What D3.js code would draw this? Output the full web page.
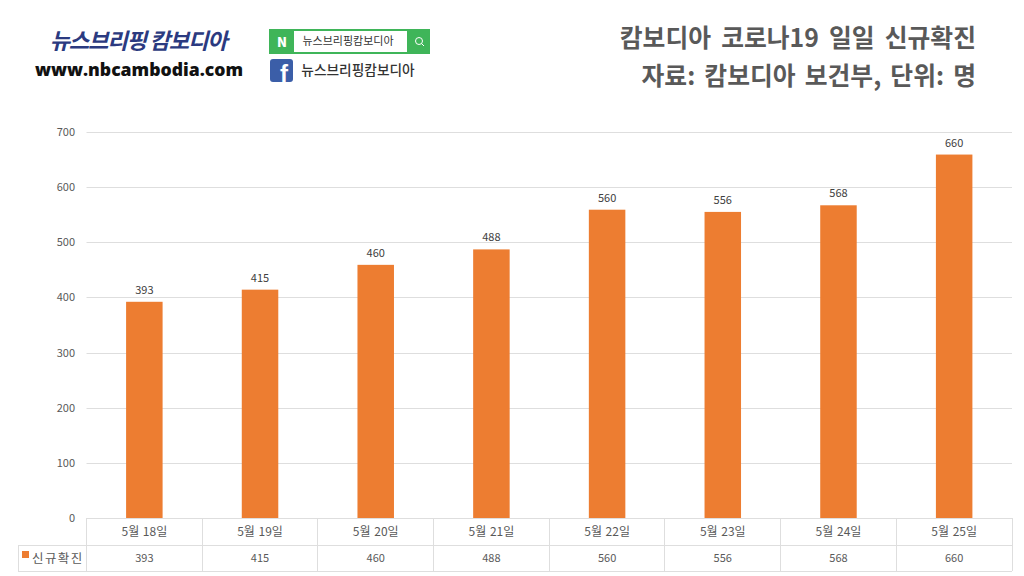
<!DOCTYPE html>
<html>
<head>
<meta charset="utf-8">
<script src="https://cdn.jsdelivr.net/npm/d3@7"></script>
<style>
html,body{margin:0;padding:0;background:#fff;overflow:hidden}
text{font-family:"Noto Sans CJK KR","Noto Sans",sans-serif}
</style>
</head>
<body>
<script>
var categories = ["5월 18일","5월 19일","5월 20일","5월 21일","5월 22일","5월 23일","5월 24일","5월 25일"];
var values = [393,415,460,488,560,556,568,660];
var yTicks = [0,100,200,300,400,500,600,700];
var seriesName = "신규확진";
var titleLines = ["캄보디아 코로나19 일일 신규확진","자료: 캄보디아 보건부, 단위: 명"];

var width = 1024, height = 576;
var left = 86.5, right = 1012, top_ = 132, bottom = 518;
var row1 = 545, row2 = 571, tableLeft = 18;
var orange = "#ed7d31", grid = "#dedede", textCol = "#595959";

var svg = d3.select("body").append("svg")
  .attr("width", width)
  .attr("height", height)
  .style("display","block");

var x = d3.scaleBand().domain(categories).range([left,right]);
var y = d3.scaleLinear().domain([0,700]).range([bottom,top_]);

// gridlines
svg.selectAll("line.grid")
  .data(yTicks)
  .enter()
  .append("line")
  .attr("class","grid")
  .attr("x1",left).attr("x2",right)
  .attr("y1",function(d){return Math.round(y(d))+0.5;})
  .attr("y2",function(d){return Math.round(y(d))+0.5;})
  .attr("stroke",grid);

// y axis
var yAxis = d3.axisLeft(y).tickValues(yTicks).tickSize(0).tickPadding(11.5);
var yg = svg.append("g").attr("transform","translate("+left+",0)").call(yAxis);
yg.select(".domain").remove();
yg.selectAll("text").attr("font-size",11).attr("fill",textCol)
  .style("font-family",'"Noto Sans CJK KR",sans-serif');

// bars
var barW = 36.5;
svg.selectAll("rect.bar")
  .data(values)
  .enter()
  .append("rect")
  .attr("class","bar")
  .attr("x",function(d,i){return x(categories[i])+x.bandwidth()/2-barW/2;})
  .attr("y",function(d){return y(d)+0.5;})
  .attr("width",barW)
  .attr("height",function(d){return y(0)-y(d)-0.5;})
  .attr("fill",orange);

svg.selectAll("text.val")
  .data(values)
  .enter()
  .append("text")
  .attr("class","val")
  .attr("x",function(d,i){return x(categories[i])+x.bandwidth()/2;})
  .attr("y",function(d){return y(d)-7.5;})
  .attr("text-anchor","middle")
  .attr("font-size",11)
  .attr("fill","#404040")
  .text(function(d){return d;});

// data table
var t = svg.append("g").attr("stroke",grid).attr("fill","none");
[bottom,row1,row2].forEach(function(r){
  t.append("line").attr("x1",r==bottom?left:tableLeft).attr("x2",right)
    .attr("y1",r+0.5).attr("y2",r+0.5);
});
t.selectAll("line.v")
  .data(x.domain().map(function(c){return x(c);}).concat([right]))
  .enter()
  .append("line")
  .attr("class","v")
  .attr("x1",function(d){return Math.floor(d)+0.5;})
  .attr("x2",function(d){return Math.floor(d)+0.5;})
  .attr("y1",bottom).attr("y2",row2);
t.append("line").attr("x1",tableLeft+0.5).attr("x2",tableLeft+0.5).attr("y1",row1).attr("y2",row2);

svg.selectAll("text.cat")
  .data(categories)
  .enter()
  .append("text")
  .attr("class","cat")
  .attr("x",function(d){return x(d)+x.bandwidth()/2;})
  .attr("y",536)
  .attr("text-anchor","middle")
  .attr("font-size",12)
  .attr("word-spacing",1)
  .attr("fill",textCol)
  .text(function(d){return d;});

svg.selectAll("text.cell")
  .data(values)
  .enter()
  .append("text")
  .attr("class","cell")
  .attr("x",function(d,i){return x(categories[i])+x.bandwidth()/2;})
  .attr("y",562)
  .attr("text-anchor","middle")
  .attr("font-size",11)
  .attr("fill",textCol)
  .text(function(d){return d;});

svg.append("rect").attr("x",22).attr("y",551).attr("width",7).attr("height",7).attr("fill",orange);
svg.append("text").attr("x",32).attr("y",563).attr("font-size",12.5).attr("fill",textCol)
  .attr("letter-spacing",1.4).text(seriesName);

// title
svg.selectAll("text.title")
  .data(titleLines)
  .enter()
  .append("text")
  .attr("class","title")
  .attr("x",976)
  .attr("y",function(d,i){return 47+i*38;})
  .attr("text-anchor","end")
  .attr("font-size",24.8)
  .attr("font-weight",700)
  .attr("fill","#595959")
  .attr("word-spacing",function(d,i){return i==0?4.5:3.5;})
  .text(function(d){return d;});

// logo
svg.append("text").attr("x",138).attr("y",49).attr("text-anchor","middle")
  .attr("font-size",22.2).attr("font-weight",700).attr("fill","#2b3a80")
  .attr("font-style","italic").attr("letter-spacing",-1.2).text("뉴스브리핑 캄보디아");
svg.append("text").attr("x",139).attr("y",75.5).attr("text-anchor","middle")
  .attr("font-size",17.6).attr("font-weight",800).attr("fill","#111")
  .style("font-family",'"Open Sans",sans-serif').text("www.nbcambodia.com");

// naver box
svg.append("rect").attr("x",269).attr("y",29).attr("width",161).attr("height",25).attr("fill","#3fb559");
svg.append("rect").attr("x",294).attr("y",31).attr("width",113).attr("height",21).attr("fill","#fff");
svg.append("text").attr("x",282).attr("y",47).attr("text-anchor","middle").attr("font-size",13)
  .attr("font-weight",900).attr("fill","#fff").text("N");
svg.append("text").attr("x",348).attr("y",45).attr("text-anchor","middle").attr("font-size",11)
  .attr("fill","#333").text("뉴스브리핑캄보디아");
svg.append("circle").attr("cx",419).attr("cy",41).attr("r",3.5).attr("fill","none").attr("stroke","#fff");
svg.append("line").attr("x1",421.5).attr("y1",43.5).attr("x2",424).attr("y2",46).attr("stroke","#fff");

// facebook
svg.append("rect").attr("x",270).attr("y",59).attr("width",23).attr("height",23).attr("rx",3).attr("fill","#3b5ea8");
svg.append("text").attr("x",284).attr("y",82).attr("text-anchor","middle").attr("font-size",24)
  .attr("font-weight",700).attr("fill","#fff").style("font-family",'"Liberation Sans",sans-serif').text("f");
svg.append("text").attr("x",358).attr("y",75).attr("text-anchor","middle").attr("font-size",13.7)
  .attr("font-weight",500).attr("fill","#333").text("뉴스브리핑캄보디아");
</script>
</body>
</html>
